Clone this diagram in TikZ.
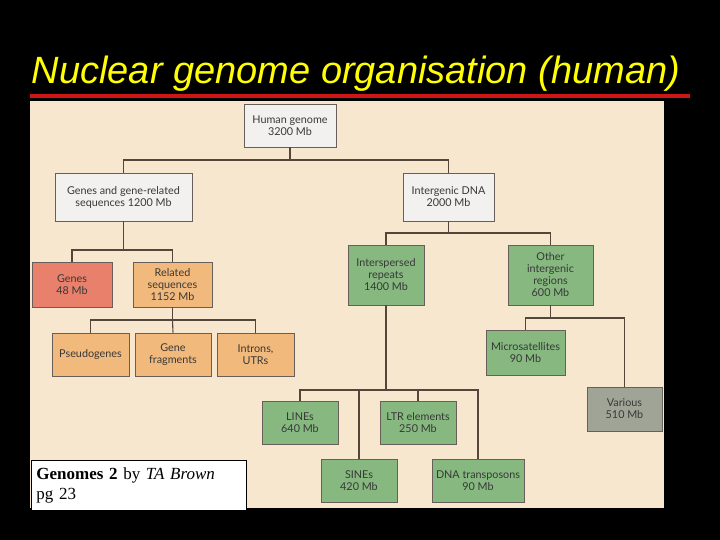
\documentclass[tikz,border=0pt]{standalone}
\usepackage{fontspec}
\setmainfont{Liberation Serif}
\newfontfamily\boxfont{Lato}
\newfontfamily\titlefont{Liberation Sans}

\definecolor{paper}{RGB}{246,231,206}
\definecolor{titleyellow}{RGB}{255,255,0}
\definecolor{rulered}{RGB}{205,22,22}
\definecolor{greybox}{RGB}{243,241,239}
\definecolor{genered}{RGB}{232,128,108}
\definecolor{relorange}{RGB}{242,185,124}
\definecolor{repgreen}{RGB}{134,184,128}
\definecolor{variousgrey}{RGB}{160,164,150}
\definecolor{linkbrown}{RGB}{85,70,60}
\definecolor{boxedge}{RGB}{105,95,90}

\tikzset{
  box/.style={draw=boxedge, line width=0.8pt, align=center, inner sep=1pt,
    font=\boxfont\fontsize{10.8}{12}\selectfont, text=black!78},
  plain/.style={box, fill=greybox},
  genebox/.style={box, fill=genered},
  relbox/.style={box, fill=relorange},
  repbox/.style={box, fill=repgreen},
  otherbox/.style={box, fill=variousgrey},
  link/.style={draw=linkbrown, line width=1.1pt},
}

\begin{document}
\begin{tikzpicture}[x=1pt, y=-1pt]
    % Page and panel
    \fill[black] (0,0) rectangle (720,540);
    \useasboundingbox (0,0) rectangle (720,540);
    \node[anchor=base, text=titleyellow,
      font=\titlefont\itshape\fontsize{38}{42}\selectfont] (title) at (356,84)
      {Nuclear genome organisation (human)};
    \draw[rulered, line width=4pt] (30,96) -- (690,96);
    \fill[paper] (30,101) rectangle (664,508);

    % Top levels
    \node[plain, minimum width=92pt, minimum height=43pt] (hg) at (290,125.5) {Human genome\\3200 Mb};
    \node[plain, minimum width=137pt, minimum height=48pt] (ggr) at (123.5,197) {Genes and gene-related\\sequences 1200 Mb};
    \node[plain, minimum width=91pt, minimum height=48pt] (idna) at (448.5,197) {Intergenic DNA\\2000 Mb};

    % Genes side
    \node[genebox, minimum width=80pt, minimum height=45pt] (genes) at (72,284.5) {Genes\\48 Mb};
    \node[relbox, minimum width=79pt, minimum height=45pt] (rel) at (172.5,284.5) {Related\\sequences\\1152 Mb};
    \node[relbox, minimum width=77pt, minimum height=43pt] (pseudo) at (90.5,354.5) {Pseudogenes};
    \node[relbox, minimum width=76pt, minimum height=43pt] (frag) at (173,354.5) {Gene\\fragments};
    \node[relbox, minimum width=77pt, minimum height=43pt] (intr) at (255.5,354.5) {Introns,\\UTRs};

    % Intergenic side
    \node[repbox, minimum width=76pt, minimum height=60pt] (isr) at (386,275) {Interspersed\\repeats\\1400 Mb};
    \node[repbox, minimum width=85pt, minimum height=60pt] (oir) at (550.5,275) {Other\\intergenic\\regions\\600 Mb};
    \node[repbox, minimum width=79pt, minimum height=45pt] (micro) at (525.5,352.5) {Microsatellites\\90 Mb};
    \node[otherbox, minimum width=75pt, minimum height=44pt] (var) at (624.5,409) {Various\\510 Mb};
    \node[repbox, minimum width=76pt, minimum height=43pt] (lines) at (300,422.5) {LINEs\\640 Mb};
    \node[repbox, minimum width=76pt, minimum height=43pt] (ltr) at (418,422.5) {LTR elements\\250 Mb};
    \node[repbox, minimum width=76pt, minimum height=43pt] (sines) at (359,480.5) {SINEs\\420 Mb};
    \node[repbox, minimum width=92pt, minimum height=43pt] (dna) at (478,480.5) {DNA transposons\\90 Mb};

    % Junctions
    \coordinate (j1) at (290,160);
    \coordinate (j2) at (123.5,250);
    \coordinate (j3) at (172.5,320);
    \coordinate (j4) at (448.5,233);
    \coordinate (j5) at (550.5,318);
    \coordinate (j6) at (386,390);

    % Connectors
    \draw[link] (hg.south) -- (j1);
    \draw[link] (ggr.north) |- (j1) -| (idna.north);
    \draw[link] (ggr.south) -- (j2);
    \draw[link] (genes.north) |- (j2) -| (rel.north);
    \draw[link] (rel.south) -- (j3);
    \draw[link] (pseudo.north) |- (j3) -| (intr.north);
    \draw[link] (j3) -- (frag.north);
    \draw[link] (idna.south) -- (j4);
    \draw[link] (isr.north) |- (j4) -| (oir.north);
    \draw[link] (oir.south) -- (j5);
    \draw[link] (micro.north) |- (j5) -| (var.north);
    \draw[link] (isr.south) -- (j6);
    \draw[link] (lines.north) |- (j6) -| (dna.north);
    \draw[link] (sines.north) -- (sines.north |- j6);
    \draw[link] (ltr.north) -- (ltr.north |- j6);

    % Source
    \node[draw=black, fill=white, line width=0.8pt, anchor=north west,
      minimum width=215pt, minimum height=50pt, text width=205pt, align=left,
      inner sep=5pt, font=\fontsize{17}{20}\selectfont] (src) at (31,460)
      {\textbf{Genomes 2} by \textit{TA Brown}\\pg 23};
\end{tikzpicture}
\end{document}
